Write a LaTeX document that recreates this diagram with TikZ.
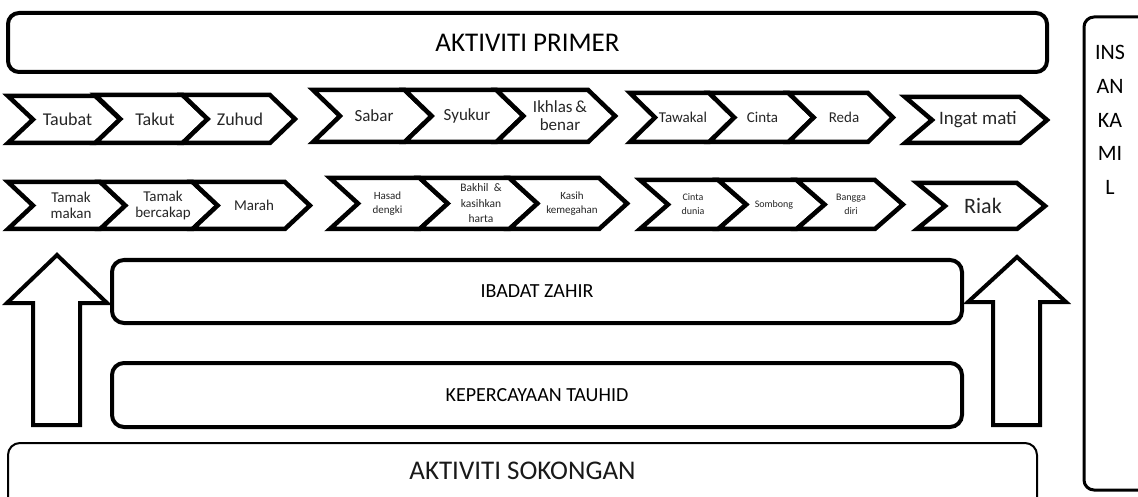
\documentclass[tikz,border=0pt]{standalone}
\usepackage{fontspec}
\setmainfont{Carlito}
\tikzset{
  chevline/.style={draw=black, line width=4.5pt, fill=white, line join=miter},
  chevtext/.style={align=center, inner sep=0pt, text=black!85},
  bigbox/.style={draw=black, line width=4pt, rounded corners=11pt, fill=white, inner sep=0pt},
  blockarrow/.style={draw=black, line width=4pt, fill=white, line join=miter},
  boxtext/.style={inner sep=0pt, text=black!90}
}
% #1 name, #2 x0, #3 ytop, #4 ybot, #5 w, #6 d, #7 font, #8 text x, #9 text
\newcommand{\chev}[9]{%
  \pgfmathsetmacro\cxa{#2+#5}%
  \pgfmathsetmacro\cxb{#2+#5+#6}%
  \pgfmathsetmacro\cxn{#2+#6}%
  \pgfmathsetmacro\cym{(#3+#4)/2}%
  \draw[chevline] (#2,#3) -- (\cxa,#3) -- (\cxb,\cym) -- (\cxa,#4) -- (#2,#4) -- (\cxn,\cym) -- cycle;
  \node[chevtext,font=#7] (#1) at (#8,\cym) {#9};%
}
\begin{document}
\begin{tikzpicture}[x=1pt,y=-1pt]
\useasboundingbox (0,0) rectangle (1138,497);
\clip (0,0) rectangle (1138,497);

% top box
\node[bigbox, minimum width=1039pt, minimum height=59pt, font=\fontsize{27}{30}\selectfont] (primer) at (527.5,42.5) {AKTIVITI PRIMER};

% insan kamil box
\draw[draw=black, line width=3pt, rounded corners=10pt] (1084,17) rectangle (1170,490);
\node[align=center, inner sep=0pt, font=\fontsize{22}{33.7}\selectfont] (insan) at (1110,120) {INS\\AN\\KA\\MI\\L};

% row 1
\chev{taubat}{8}{96}{143}{87.3}{25}{\fontsize{18}{20}\selectfont}{67.5}{Taubat}
\chev{takut}{95.3}{95}{143}{87.3}{25}{\fontsize{18}{20}\selectfont}{155}{Takut}
\chev{zuhud}{182.6}{95}{143}{87.3}{25}{\fontsize{18}{20}\selectfont}{240}{Zuhud}

\chev{sabar}{313}{90}{142}{91.7}{27}{\fontsize{17}{18}\selectfont}{374}{Sabar}
\chev{syukur}{404.7}{90}{142}{91.7}{27}{\fontsize{17}{18}\selectfont}{467}{Syukur}
\chev{ikhlas}{496.4}{90}{142}{91.7}{27}{\fontsize{17}{18}\selectfont}{560}{Ikhlas\,\&\\benar}

\chev{tawakal}{630}{93}{142}{79.3}{25}{\fontsize{15}{17}\selectfont}{683}{Tawakal}
\chev{cinta}{709.3}{93}{142}{79.3}{25}{\fontsize{15}{17}\selectfont}{762.5}{Cinta}
\chev{reda}{788.6}{93}{142}{79.3}{25}{\fontsize{15}{17}\selectfont}{844}{Reda}

\chev{ingat}{905}{97}{143}{115}{27}{\fontsize{19}{21}\selectfont}{978}{Ingat mati}

% row 2
\chev{tmakan}{8}{182}{229}{92.3}{25}{\fontsize{15}{16}\selectfont}{71}{Tamak\\makan}
\chev{tbercakap}{100.3}{182}{229}{92.3}{25}{\fontsize{15}{16}\selectfont}{163}{Tamak\\bercakap}
\chev{marah}{192.6}{182}{229}{92.3}{25}{\fontsize{15}{16}\selectfont}{254}{Marah}

\chev{hasad}{330}{178}{229}{89.7}{28}{\fontsize{11}{14}\selectfont}{387.5}{Hasad\\dengki}
\chev{bakhil}{419.7}{178}{229}{89.7}{28}{\fontsize{11.5}{15.5}\selectfont}{481}{Bakhil \ \&\\kasihkan\\harta}
\chev{kasih}{509.4}{178}{229}{89.7}{28}{\fontsize{11}{14}\selectfont}{572}{Kasih\\kemegahan}

\chev{cdunia}{640}{180}{229}{78.3}{28}{\fontsize{10}{14}\selectfont}{693}{Cinta\\dunia}
\chev{sombong}{718.3}{180}{229}{78.3}{28}{\fontsize{10}{14}\selectfont}{774}{Sombong}
\chev{bangga}{796.6}{180}{229}{78.3}{28}{\fontsize{10}{14}\selectfont}{851}{Bangga\\diri}

\chev{riak}{917}{183}{229}{100}{28}{\fontsize{22}{24}\selectfont}{983}{Riak}

% block arrows
\draw[blockarrow] (57,255) -- (107,303) -- (80,303) -- (80,425) -- (33,425) -- (33,303) -- (7,303) -- cycle;
\draw[blockarrow] (1017,257) -- (1066,302) -- (1040,302) -- (1040,425) -- (993,425) -- (993,302) -- (968,302) -- cycle;

% middle boxes
\node[bigbox, rounded corners=12pt, minimum width=850pt, minimum height=63pt, font=\fontsize{20}{22}\selectfont] (ibadat) at (537,291.5) {IBADAT ZAHIR};
\node[bigbox, rounded corners=12pt, minimum width=850pt, minimum height=64pt, font=\fontsize{20}{22}\selectfont] (tauhid) at (537,395) {KEPERCAYAAN TAUHID};

% bottom box
\draw[draw=black, line width=2pt, rounded corners=12pt] (8,443) rectangle (1037,530);
\node[boxtext, font=\fontsize{27}{30}\selectfont] (sokongan) at (522.5,471) {AKTIVITI SOKONGAN};
\end{tikzpicture}
\end{document}
